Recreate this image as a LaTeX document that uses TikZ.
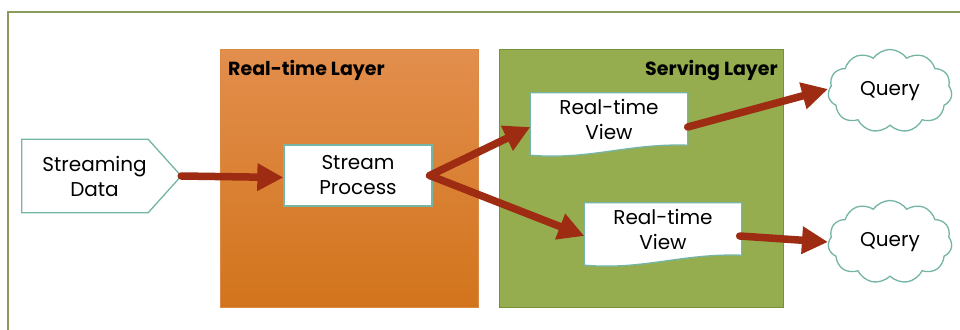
\documentclass[tikz,border=0pt]{standalone}
\usepackage{fontspec}
\setmainfont{Poppins}
\usetikzlibrary{shapes.symbols,arrows.meta,calc}
\definecolor{frameC}{HTML}{8A9A5B}
\definecolor{rtTop}{HTML}{E28E4D}
\definecolor{rtBot}{HTML}{D2741C}
\definecolor{rtEdge}{HTML}{D98A45}
\definecolor{svFill}{HTML}{95AD4E}
\definecolor{svEdge}{HTML}{75913A}
\definecolor{tealC}{HTML}{74B5A6}
\definecolor{arrC}{HTML}{9E2C12}
\begin{document}
\begin{tikzpicture}[x=1pt,y=-1pt,
  txt/.style={font=\fontsize{20}{25}\selectfont, align=center, text=black},
  ttl/.style={font=\bfseries\fontsize{19}{22}\selectfont, text=black, inner sep=0pt},
  procbox/.style={draw=tealC, line width=1.3pt, fill=white, txt, minimum width=148pt, minimum height=61pt, inner sep=0pt},
  docbox/.style={txt, minimum width=157pt, minimum height=52pt, inner sep=0pt},
  docline/.style={draw=tealC, line width=1.3pt, fill=white},
  qcloud/.style={cloud, cloud puffs=11, cloud puff arc=110, aspect=1.5, draw=tealC, line width=1.3pt, fill=white, txt, minimum width=124pt, minimum height=83pt, inner sep=0pt},
  flow/.style={draw=arrC, line width=7.5pt, line cap=round, -{Triangle[length=26pt,width=26pt]}},
  layer/.style={minimum width=#1, minimum height=258pt, inner sep=0pt}
]
\useasboundingbox (0,0) rectangle (960,329);
\fill[white] (0,0) rectangle (960,329);
% outer frame
\draw[frameC, line width=1.6pt] (8,360) -- (8,12) -- (990,12);

% layers
\node[layer=258pt, top color=rtTop, bottom color=rtBot, draw=rtEdge, line width=0.6pt, anchor=north west] (rt) at (220,49) {};
\node[layer=284pt, fill=svFill, draw=svEdge, line width=1pt, anchor=north west] (sv) at (499,49) {};
\node[ttl, anchor=north west] (rtt) at ($(rt.north west)+(8,11)$) {Real-time Layer};
\node[ttl, anchor=north east] (svt) at ($(sv.north east)+(-6,11)$) {Serving Layer};

% streaming data
\node[minimum width=159pt, minimum height=73pt, inner sep=0pt] (sd) at (101.5,176) {};
\path[docline] (sd.north west) -- ($(sd.north east)+(-33,0)$) -- (sd.east)
  -- ($(sd.south east)+(-33,0)$) -- (sd.south west) -- cycle;
\node[txt, inner sep=0pt] (sdt) at ($(sd.center)+(-7,0)$) {Streaming\\Data};

% stream process
\node[procbox] (sp) at (358,175.5) {Stream\\Process};

% views
\node[docbox] (v1) at (609,119) {};
\path[docline] (v1.north west) -- (v1.north east) -- (v1.south east)
  .. controls ($(v1.south east)+(-60,-2)$) and ($(v1.south west)+(60,15)$) .. ($(v1.south west)+(0,10)$) -- cycle;
\node[docbox] at (v1) {Real-time\\View};

\node[docbox] (v2) at (663,229) {};
\path[docline] (v2.north west) -- (v2.north east) -- (v2.south east)
  .. controls ($(v2.south east)+(-60,-2)$) and ($(v2.south west)+(60,15)$) .. ($(v2.south west)+(0,10)$) -- cycle;
\node[docbox] at (v2) {Real-time\\View};

% queries
\node[qcloud] (q1) at (890,91) {Query};
\node[qcloud] (q2) at (890,242) {Query};

% flows
\draw[flow] (sd.east) -- ($(sp.west)+(0,2)$);
\draw[flow] ($(sp.east)+(-3,0)$) -- ($(v1.west)+(0,8)$);
\draw[flow] ($(sp.east)+(-3,0)$) -- ($(v2.west)+(0,7)$);
\draw[flow] ($(v1.east)+(0,8)$) -- ($(q1.west)+(0,-2)$);
\draw[flow] ($(v2.east)+(-2,7)$) -- (q2.west);
\end{tikzpicture}
\end{document}
